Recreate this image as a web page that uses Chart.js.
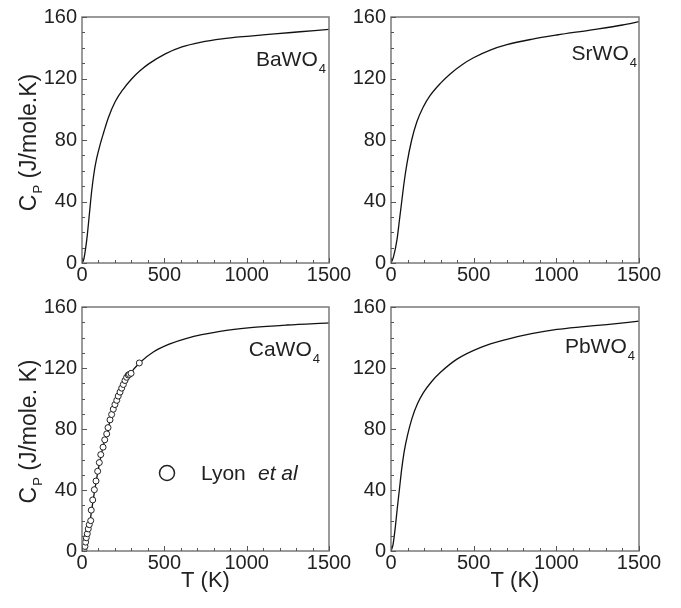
<!DOCTYPE html>
<html>
<head>
<meta charset="utf-8">
<script src="https://cdn.jsdelivr.net/npm/chart.js@4.4.1/dist/chart.umd.min.js"></script>
<style>
    body { margin: 0; background: #fff; }
    #fig { position: relative; width: 681px; height: 608px; overflow: hidden; }
    .panel { position: absolute; }
</style>
</head>
<body>
<div id="fig">
    <div class="panel" style="left:0;top:0"><canvas id="ba" width="360" height="300"></canvas></div>
    <div class="panel" style="left:340px;top:0"><canvas id="sr" width="341" height="300"></canvas></div>
    <div class="panel" style="left:0;top:290px"><canvas id="ca" width="360" height="318"></canvas></div>
    <div class="panel" style="left:340px;top:290px"><canvas id="pb" width="341" height="318"></canvas></div>
</div>
<script>
// tick labels
const xTicks = [0, 500, 1000, 1500];
const yTicks = [0, 40, 80, 120, 160];

// BaWO4
const baT  = [0, 10, 20, 32, 45, 59, 75, 89, 110, 132, 160, 202, 250, 304, 352, 405, 506, 607, 718, 850, 1020, 1170, 1324, 1500];
const baCp = [0, 2, 8, 18, 32, 47, 60, 68, 77, 85, 94.5, 105, 113, 120, 125, 129.5, 136, 140.5, 143.5, 145.8, 147.6, 149, 150.4, 152];

// SrWO4
const srT  = [0, 15, 36, 50, 66, 80, 97, 125, 157, 195, 237, 300, 358, 430, 499, 600, 701, 850, 1003, 1204, 1400, 1500];
const srCp = [0, 4, 15, 27, 41, 53, 65, 80, 92, 101.5, 109, 117, 123, 129, 133.5, 138.5, 142, 145.5, 148.3, 151.5, 154.8, 157];

// CaWO4 (calc.)
const caT  = [0, 12, 20, 32, 44, 55, 65, 75, 85, 105, 128, 150, 170, 200, 231, 261, 291, 352, 433, 534, 636, 838, 1040, 1243, 1500];
const caCp = [0, 0.5, 3, 9, 16, 24, 31.5, 38.5, 45, 57, 68.5, 77.5, 85, 95, 103.5, 110.5, 116, 123.6, 130.5, 135.8, 139.5, 144, 146.6, 148.2, 149.6];

// CaWO4, Lyon et al
const lyonT  = [12, 18, 22, 26, 32, 38, 44, 53, 56, 65, 75, 85, 95, 105, 114, 128, 138, 150, 158, 170, 180, 190, 200, 211, 220, 231, 241, 251, 261, 271, 281, 288, 298, 348];
const lyonCp = [0.5, 3, 5.8, 8.7, 11.3, 14.5, 17.3, 19.9, 26.8, 33.5, 40.2, 45.9, 52.3, 58, 63.2, 68.1, 72.9, 76.8, 80.9, 86, 89.5, 93, 96, 98.8, 101.6, 104.2, 106.8, 109.2, 111.8, 113.9, 115.4, 115.8, 116.5, 123.3];

// PbWO4
const pbT  = [0, 12, 26, 38, 52, 65, 80, 100, 127, 160, 197, 245, 298, 399, 540, 701, 850, 1003, 1150, 1305, 1500];
const pbCp = [0, 4, 15.6, 28, 41.5, 54, 65.3, 76, 87, 96.5, 104, 111, 117, 125.8, 133.4, 138.8, 142.5, 145.3, 147, 148.5, 150.7];

const FONT = "'Liberation Sans', Arial, sans-serif";
const axisColor = '#7a7a7a';

const toPoints = (xs, ys) => xs.map((x, i) => ({ x: x, y: ys[i] }));

// box + inward minor/major ticks + texts
const decoPlugin = {
    id: 'deco',
    afterDraw(chart, args, opts) {
        const { ctx, chartArea: a } = chart;
        const xs = chart.scales.x, ys = chart.scales.y;
        ctx.save();
        ctx.strokeStyle = axisColor;
        ctx.lineWidth = 1.5;
        ctx.strokeRect(a.left, a.top, a.right - a.left, a.bottom - a.top);

        ctx.lineWidth = 1;
        ctx.strokeStyle = '#555';
        ctx.beginPath();
        for (let t = 0; t <= 1500; t += 100) {
            const px = Math.round(xs.getPixelForValue(t)) + 0.5;
            const len = t % 500 === 0 ? 5 : 3;
            ctx.moveTo(px, a.bottom);
            ctx.lineTo(px, a.bottom - len);
        }
        for (let v = 0; v <= 160; v += 10) {
            const py = Math.round(ys.getPixelForValue(v)) + 0.5;
            const len = v % 40 === 0 ? 5 : 3;
            ctx.moveTo(a.left, py);
            ctx.lineTo(a.left + len, py);
        }
        ctx.stroke();

        ctx.fillStyle = '#222';

        // compound name with subscript
        ctx.textBaseline = 'alphabetic';
        ctx.textAlign = 'left';
        ctx.font = '21px ' + FONT;
        const mainW = ctx.measureText(opts.name).width;
        ctx.font = '13px ' + FONT;
        const subW = ctx.measureText('4').width;
        const x0 = a.right - opts.nameRight - subW - mainW;
        const y0 = a.top + opts.nameTop;
        ctx.font = '21px ' + FONT;
        ctx.fillText(opts.name, x0, y0);
        ctx.font = '13px ' + FONT;
        ctx.fillText('4', x0 + mainW + 1, y0 + 7);

        // y title
        if (opts.yTitle) {
            ctx.save();
            ctx.translate(36, (a.top + a.bottom) / 2 + 3);
            ctx.rotate(-Math.PI / 2);
            ctx.font = '23px ' + FONT;
            const cW = ctx.measureText('C').width;
            ctx.font = '13px ' + FONT;
            const pW = ctx.measureText('P').width;
            ctx.font = '23px ' + FONT;
            const restW = ctx.measureText(opts.yTitle).width;
            let x = -(cW + pW + restW) / 2;
            ctx.fillText('C', x, 0);
            x += cW + 1;
            ctx.font = '13px ' + FONT;
            ctx.fillText('P', x, 6);
            x += pW;
            ctx.font = '23px ' + FONT;
            ctx.fillText(opts.yTitle, x, 0);
            ctx.restore();
        }

        // x title
        if (opts.xTitle) {
            ctx.font = '22px ' + FONT;
            ctx.textAlign = 'center';
            ctx.textBaseline = 'middle';
            ctx.fillText(opts.xTitle, (a.left + a.right) / 2, a.bottom + 30);
        }

        // legend for the experimental points
        if (opts.legend) {
            const cx = a.left + 85, cy = a.top + 166;
            ctx.beginPath();
            ctx.arc(cx, cy, 7.5, 0, Math.PI * 2);
            ctx.lineWidth = 1.5;
            ctx.strokeStyle = '#222';
            ctx.stroke();
            ctx.textAlign = 'left';
            ctx.textBaseline = 'alphabetic';
            ctx.font = '21px ' + FONT;
            ctx.fillText('Lyon', cx + 34, cy + 7);
            ctx.font = 'italic 21px ' + FONT;
            ctx.fillText('et al', cx + 91, cy + 7);
        }
        ctx.restore();
    }
};

function makePanel(id, cfg) {
    const datasets = [];
    if (cfg.points) {
        datasets.push({
            data: cfg.points,
            showLine: false,
            pointRadius: 3,
            pointBorderWidth: 1,
            pointBackgroundColor: '#fff',
            pointBorderColor: '#222'
        });
    }
    datasets.push({
        data: cfg.curve,
        showLine: true,
        borderColor: '#111',
        borderWidth: 1.3,
        pointRadius: 0,
        cubicInterpolationMode: 'monotone',
        fill: false
    });

    return new Chart(document.getElementById(id), {
        type: 'scatter',
        data: { datasets: datasets },
        options: {
            responsive: false,
            animation: false,
            devicePixelRatio: 1,
            layout: { padding: cfg.padding },
            plugins: {
                legend: { display: false },
                tooltip: { enabled: false },
                deco: cfg.deco
            },
            scales: {
                x: {
                    type: 'linear',
                    min: 0, max: 1500,
                    afterBuildTicks: s => { s.ticks = xTicks.map(v => ({ value: v })); },
                    afterFit: s => { s.height = cfg.xHeight; },
                    grid: { display: false, drawTicks: false },
                    border: { display: false },
                    ticks: {
                        color: '#222', padding: 0, maxRotation: 0,
                        font: { family: FONT, size: 20 },
                        callback: v => String(v)
                    }
                },
                y: {
                    type: 'linear',
                    min: 0, max: 160,
                    afterBuildTicks: s => { s.ticks = yTicks.map(v => ({ value: v })); },
                    afterFit: s => { s.width = cfg.yWidth; },
                    grid: { display: false, drawTicks: false },
                    border: { display: false },
                    ticks: {
                        color: '#222', padding: 5,
                        font: { family: FONT, size: 20 },
                        callback: v => String(v)
                    }
                }
            }
        },
        plugins: [decoPlugin]
    });
}

makePanel('ba', {
    curve: toPoints(baT, baCp),
    padding: { top: 15, right: 31, left: 0, bottom: 0 },
    yWidth: 82, xHeight: 37,
    deco: { name: 'BaWO', nameRight: 4, nameTop: 49, yTitle: ' (J/mole.K)' }
});
makePanel('sr', {
    curve: toPoints(srT, srCp),
    padding: { top: 15, right: 42, left: 0, bottom: 0 },
    yWidth: 51, xHeight: 37,
    deco: { name: 'SrWO', nameRight: 3, nameTop: 43 }
});
makePanel('ca', {
    curve: toPoints(caT, caCp),
    points: toPoints(lyonT, lyonCp),
    padding: { top: 14, right: 31, left: 0, bottom: 0 },
    yWidth: 82, xHeight: 57,
    deco: { name: 'CaWO', nameRight: 10, nameTop: 49, yTitle: ' (J/mole. K)', xTitle: 'T (K)', legend: true }
});
makePanel('pb', {
    curve: toPoints(pbT, pbCp),
    padding: { top: 14, right: 42, left: 0, bottom: 0 },
    yWidth: 51, xHeight: 57,
    deco: { name: 'PbWO', nameRight: 5, nameTop: 46, xTitle: 'T (K)' }
});
</script>
</body>
</html>
